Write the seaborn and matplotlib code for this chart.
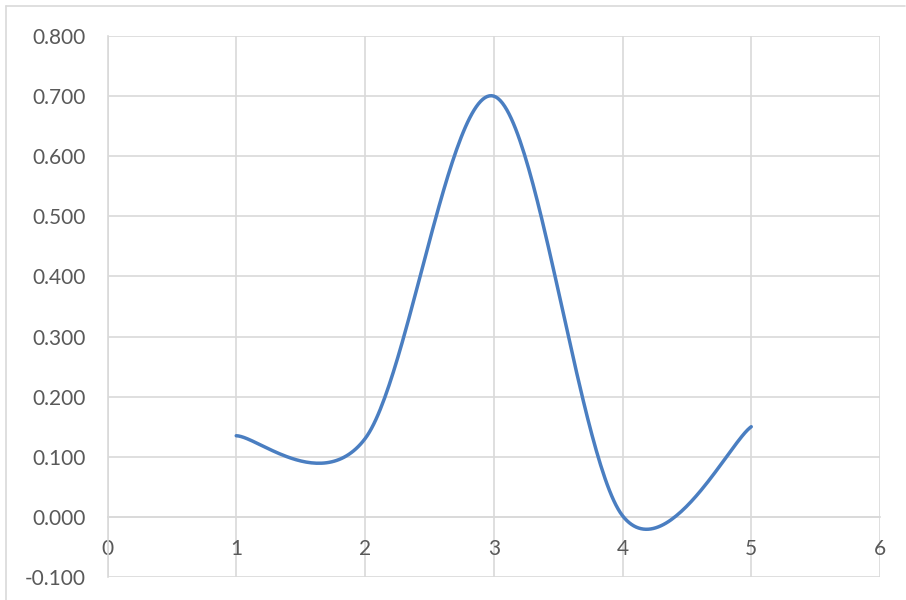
import numpy as np
import pandas as pd
import matplotlib
matplotlib.use("Agg")
import matplotlib.pyplot as plt
from matplotlib.lines import Line2D
import seaborn as sns

# Series values
x_values = [1, 2, 3, 4, 5]
y_values = [0.135, 0.130, 0.700, 0.002, 0.150]

x_ticks = [0, 1, 2, 3, 4, 5, 6]
y_ticks = [-0.1, 0.0, 0.1, 0.2, 0.3, 0.4, 0.5, 0.6, 0.7, 0.8]

LINE_COLOR = "#4A7EC1"
GRID_COLOR = "#D9D9D9"
TEXT_COLOR = "#595959"


def smooth_curve(xs, ys, steps=60):
    """Smoothed line through the points using cubic Bezier segments
    (Catmull-Rom style control points, as in office chart smoothing)."""
    pts = np.column_stack([xs, ys]).astype(float)
    n = len(pts)
    out = []
    for i in range(n - 1):
        p0 = pts[i - 1] if i > 0 else pts[i]
        p1 = pts[i]
        p2 = pts[i + 1]
        p3 = pts[i + 2] if i + 2 < n else pts[i + 1]
        c1 = p1 + (p2 - p0) / 6.0
        c2 = p2 - (p3 - p1) / 6.0
        t = np.linspace(0, 1, steps)[:, None]
        seg = ((1 - t) ** 3) * p1 + 3 * t * (1 - t) ** 2 * c1 \
            + 3 * t ** 2 * (1 - t) * c2 + t ** 3 * p2
        if i > 0:
            seg = seg[1:]
        out.append(seg)
    curve = np.vstack(out)
    return curve[:, 0], curve[:, 1]


sns.set_theme(style="white")
plt.rcParams["font.family"] = ["Lato", "DejaVu Sans"]

W, H = 906, 600
fig = plt.figure(figsize=(W / 100, H / 100), dpi=100)
fig.patch.set_facecolor("white")

# Plot area in pixel coordinates
left, right, top, bottom = 107.5, 880, 36, 577
ax = fig.add_axes([left / W, 1 - bottom / H, (right - left) / W, (bottom - top) / H])

cx, cy = smooth_curve(x_values, y_values)
curve = pd.DataFrame({"x": cx, "y": cy})
sns.lineplot(data=curve, x="x", y="y", sort=False, ax=ax,
             color=LINE_COLOR, linewidth=2.5, zorder=3)

ax.set_xlim(0, 6)
ax.set_ylim(-0.1, 0.8)
ax.set_xticks(x_ticks)
ax.set_yticks(y_ticks)
ax.set_xticklabels([str(v) for v in x_ticks])
ax.set_yticklabels([f"{v:.3f}" for v in y_ticks])
ax.set_xlabel("")
ax.set_ylabel("")

ax.grid(True, color=GRID_COLOR, linewidth=1.2)
ax.set_axisbelow(True)

for name in ["top", "right"]:
    ax.spines[name].set_visible(False)
ax.spines["left"].set_color(GRID_COLOR)
ax.spines["left"].set_linewidth(1.2)
ax.spines["bottom"].set_position(("data", 0))
ax.spines["bottom"].set_color(GRID_COLOR)
ax.spines["bottom"].set_linewidth(1.2)

ax.tick_params(axis="both", length=0, labelsize=15, labelcolor=TEXT_COLOR)
ax.tick_params(axis="x", pad=16)
ax.tick_params(axis="y", pad=16)

# Chart area border (top and left edges)
fig.add_artist(Line2D([6 / W, 6 / W], [0, 1 - 6 / H], transform=fig.transFigure,
                      color="#D9D9D9", linewidth=1.2))
fig.add_artist(Line2D([6 / W, 905 / W], [1 - 6 / H, 1 - 6 / H], transform=fig.transFigure,
                      color="#D9D9D9", linewidth=1.2))

fig.savefig("out.png", dpi=100)
